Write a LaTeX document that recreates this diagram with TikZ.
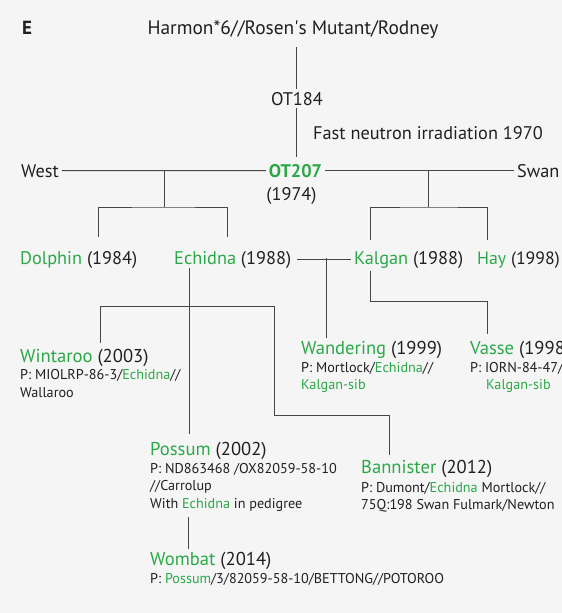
\documentclass[tikz,border=0pt]{standalone}
\usepackage{fontspec}
\setmainfont{PT Sans}

\definecolor{leafgreen}{RGB}{43,168,72}
\definecolor{ink}{RGB}{35,31,32}
\definecolor{stem}{RGB}{70,70,70}
\definecolor{paper}{RGB}{245,245,245}

\newcommand{\cultivar}[1]{\textcolor{leafgreen}{#1}}

\tikzset{
  every node/.style={inner sep=3pt, text=ink},
  tier/.style={font=\fontsize{18.3}{20}\selectfont},
  variety/.style={anchor=base west, font=\fontsize{18.6}{21}\selectfont},
  pedigree/.style={anchor=base west, align=left, font=\fontsize{14.2}{17.5}\selectfont},
  link/.style={draw=stem, line width=0.9pt}
}

\begin{document}
\begin{tikzpicture}[x=1pt,y=-1pt]
      \fill[paper] (0,0) rectangle (562,613);
      \useasboundingbox (0,0) rectangle (562,613);

      \node[anchor=base west, font=\fontsize{19}{21}\selectfont\bfseries] (panel) at (19,34) {E};

      % founders
      \node[tier, anchor=base, font=\fontsize{19.4}{21}\selectfont] (harmon) at (293,34) {Harmon*6//Rosen\textquotesingle s Mutant/Rodney};
      \node[tier, anchor=base] (ot184) at (297,105) {OT184};
      \node[tier, anchor=base west] (neutron) at (310,139) {Fast neutron irradiation 1970};
      \node[tier, anchor=base, font=\fontsize{18.3}{20}\selectfont\bfseries, text=leafgreen] (ot207) at (295.5,177) {OT207};
      \node[tier, anchor=base] (yr1974) at (291.5,200) {(1974)};
      \node[tier, anchor=base west] (west) at (18,177) {West};
      \node[tier, anchor=base west] (swan) at (514,177) {Swan};

      % first generation
      \node[tier, anchor=base west] (dolphin) at (17,264) {\cultivar{Dolphin} (1984)};
      \node[tier, anchor=base west] (echidna) at (171,264) {\cultivar{Echidna} (1988)};
      \node[tier, anchor=base west] (kalgan) at (351,264) {\cultivar{Kalgan} (1988)};
      \node[tier, anchor=base west, font=\fontsize{17.8}{20}\selectfont] (hay) at (474,264) {\cultivar{Hay} (1998)};

      % later releases (pedigree nodes sit on their last line)
      \node[variety] (wintaroo) at (17,362) {\cultivar{Wintaroo} (2003)};
      \node[pedigree] (wintaroo-p) at (17,397) {P: MIOLRP-86-3/\cultivar{Echidna}//\\Wallaroo};
      \node[variety] (wandering) at (298,354.7) {\cultivar{Wandering} (1999)};
      \node[pedigree] (wandering-p) at (298,389.7) {P: Mortlock/\cultivar{Echidna}//\\\cultivar{Kalgan-sib}};
      \node[variety] (vasse) at (467,354.7) {\cultivar{Vasse} (1998)};
      \node[pedigree] (vasse-p) at (467,389.7) {P: IORN-84-47/\\\hspace*{16pt}\cultivar{Kalgan-sib}};
      \node[variety] (possum) at (147,455.7) {\cultivar{Possum} (2002)};
      \node[pedigree] (possum-p) at (147,508) {P: ND863468 /OX82059-58-10\\//Carrolup\\With \cultivar{Echidna} in pedigree};
      \node[variety] (bannister) at (358,473.7) {\cultivar{Bannister} (2012)};
      \node[pedigree] (bannister-p) at (358,509.7) {P: Dumont/\cultivar{Echidna} Mortlock//\\75Q:198 Swan Fulmark/Newton};
      \node[variety] (wombat) at (147,565) {\cultivar{Wombat} (2014)};
      \node[pedigree] (wombat-p) at (147,583.7) {P: \cultivar{Possum}/3/82059-58-10/BETTONG//POTOROO};

      % branch points
      \coordinate (wj) at (164,171);
      \coordinate (wbar) at (164,207);
      \coordinate (dolphin-in) at (98,237);
      \coordinate (echidna-in) at (227,237);
      \coordinate (ej) at (428.7,171);
      \coordinate (ebar) at (428.7,207);
      \coordinate (kalgan-in) at (370,240);
      \coordinate (hay-in) at (487,240);
      \coordinate (xj) at (326,257.5);
      \coordinate (kalgan-out) at (370,271);
      \coordinate (vasse-in) at (487,334);
      \coordinate (echidna-out) at (189,268);
      \coordinate (possum-in) at (189,434);
      \coordinate (wintaroo-in) at (100.7,343);
      \coordinate (bannister-in) at (389,455);
      \coordinate (possum-out) at (188,517);

      \draw[link, shorten >=6pt] (ot184.north -| 296,0) -- (harmon.south -| 296,0);
      \draw[link, shorten >=4pt] (ot184.south -| 296,0) -- (ot207.north -| 296,0);
      \draw[link] (west) -- (ot207);
      \draw[link] (ot207) -- (swan);
      \draw[link] (wj) -- (wbar);
      \draw[link] (dolphin-in) |- (wbar) -| (echidna-in);
      \draw[link] (ej) -- (ebar);
      \draw[link] (kalgan-in) |- (ebar) -| (hay-in);
      \draw[link, shorten <=3pt] (echidna) -- (kalgan);
      \draw[link] (xj) -- (xj |- wandering.north);
      \draw[link] (kalgan-out) -- ++(0,30) -| (vasse-in);
      \draw[link] (echidna-out) -- (possum-in);
      \draw[link] (wintaroo-in) -- ++(0,-37) -- ++(174,0) -- ++(0,109) -| (bannister-in);
      \draw[link] (possum-out) -- (possum-out |- wombat.north);
    \end{tikzpicture}
\end{document}
